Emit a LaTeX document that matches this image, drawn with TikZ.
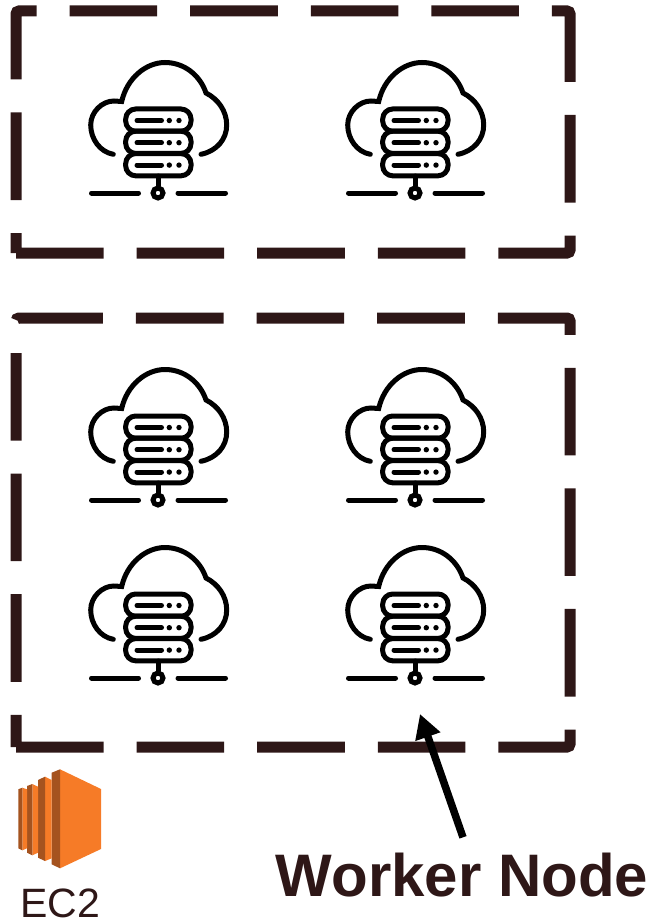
\documentclass[tikz,border=0pt]{standalone}
\usepackage{fontspec}
\setmainfont{Liberation Sans}
\usetikzlibrary{arrows.meta}
\definecolor{marron}{HTML}{2E1717}
\definecolor{naranja}{HTML}{F67B27}
\definecolor{naranjaosc}{HTML}{A5531F}
\tikzset{
  grupo/.style={color=marron, line width=11pt, dash pattern=on 87.6pt off 33pt, rounded corners=3pt},
  icono/.style={black, line width=5pt, line cap=round},
  flecha/.style={black, line width=7.5pt, -{Triangle[length=24pt,width=25pt]}},
  pics/servidor/.style={code={
    \draw[icono] (-44.7,-38.7) .. controls (-58,-41) and (-67.3,-54) .. (-67.3,-68)
      .. controls (-67.3,-81) and (-56,-92) .. (-44,-92) -- (-36.3,-91.5)
      .. controls (-31,-115) and (-12,-130.5) .. (7,-130.5)
      .. controls (26,-130.5) and (42,-118) .. (48,-100)
      .. controls (60,-94) and (68.7,-82) .. (68.7,-68)
      .. controls (68.7,-54) and (59,-42) .. (43,-38.7);
    \foreach \f in {-84,-61.8,-39.4} {
      \draw[icono, rounded corners=10pt] (-32.3,\f) rectangle (33,\f+22.2);
      \draw[icono] (-21,\f+11.5) -- (3.5,\f+11.5);
      \fill (11.3,\f+11.5) circle (2.7);
      \fill (21,\f+11.5) circle (2.7);
    }
    \draw[icono] (0,-17) -- (0,-7);
    \draw[icono] (0,0) circle (5);
    \draw[icono] (-66.5,0) -- (-19.5,0);
    \draw[icono] (20,0) -- (67.5,0);
  }}
}
\begin{document}
\begin{tikzpicture}[x=1pt, y=-1pt]
  \useasboundingbox (0,0) rectangle (652,923);
  \draw[grupo] (16,253) -- (570,253) -- (570,11) -- (16,11) -- (16,253);
  \draw[grupo] (16,747) -- (570,747) -- (570,318) -- (16,318) -- (16,747);
  \foreach \x/\y in {158/193, 415/193, 158/500, 415/500, 158/678, 415/678} {
    \pic at (\x,\y) {servidor};
  }
  % EC2
  \fill[naranja] (60,769.3) -- (101,789) -- (101,849) -- (60,868.3) -- cycle;
  \fill[naranjaosc] (51.7,772.7) -- (60,769.3) -- (60,868.3) -- (51.7,864.3) -- cycle;
  \fill[naranja] (45,776.7) -- (51.7,780) -- (51.7,858.3) -- (45,861) -- cycle;
  \fill[naranjaosc] (38,780) -- (45,776.7) -- (45,861) -- (38,857.7) -- cycle;
  \fill[naranja] (32.3,784) -- (38,786.7) -- (38,852.7) -- (32.3,855.3) -- cycle;
  \fill[naranjaosc] (27,786) -- (32.3,784) -- (32.3,855.3) -- (27,852.7) -- cycle;
  \fill[naranja] (22.3,787.7) -- (27,789.3) -- (27,848.3) -- (22.3,850.3) -- cycle;
  \fill[naranjaosc] (18.3,789.3) -- (22.3,787.7) -- (22.3,850.3) -- (18.3,848.3) -- cycle;
  \node[marron, anchor=base, inner sep=0pt] (ec2) at (60,917) {\fontsize{41}{41}\selectfont EC2};
  \node[marron, anchor=base, inner xsep=0pt, inner ysep=15pt] (etiqueta) at (462,896) {\fontsize{60}{60}\selectfont\bfseries Worker Node};
  \coordinate (puntaflecha) at (420,714);
  \draw[flecha] ([xshift=1pt]etiqueta.north) -- (puntaflecha);
\end{tikzpicture}
\end{document}
